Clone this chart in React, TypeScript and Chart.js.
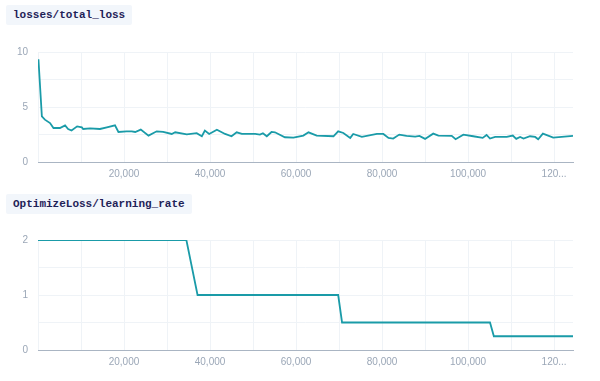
import React, { useEffect, useRef } from "react";
import { Chart, registerables } from "chart.js";

Chart.register(...registerables);

// losses/total_loss
const lossSteps = [
  100, 900, 1600, 2800, 3600, 5100, 6300, 7000, 7800, 9100, 10200, 10500, 12100, 14400, 16000,
  17900, 18700, 20600, 21800, 22600, 23900, 25700, 27600, 29100, 31100, 31900, 34600, 36900,
  38100, 38800, 39800, 41600, 43500, 45000, 46200, 47400, 50500, 51600, 52300, 53200, 54300,
  55100, 57400, 59400, 61700, 62900, 64800, 68700, 69800, 71000, 72600, 73300, 75300, 78800,
  80300, 81500, 82600, 84000, 85700, 87700, 88700, 90000, 91900, 93100, 96200, 97100, 98900,
  101200, 103400, 104300, 105100, 106300, 109000, 110400, 111200, 112100, 112900, 114400,
  115600, 116300, 117400, 119800, 124400,
];
const lossValues = [
  9.34, 4.14, 3.85, 3.54, 3.09, 3.09, 3.33, 3.0, 2.86, 3.24, 3.15, 3.0, 3.06, 3.0, 3.15,
  3.33, 2.73, 2.79, 2.79, 2.73, 2.95, 2.4, 2.79, 2.73, 2.55, 2.7, 2.52, 2.62,
  2.34, 2.86, 2.55, 2.94, 2.55, 2.34, 2.7, 2.55, 2.55, 2.49, 2.61, 2.34, 2.73,
  2.7, 2.25, 2.22, 2.4, 2.7, 2.4, 2.34, 2.79, 2.64, 2.19, 2.55, 2.28, 2.55,
  2.55, 2.19, 2.13, 2.49, 2.37, 2.31, 2.37, 2.1, 2.58, 2.4, 2.37, 2.07, 2.49,
  2.34, 2.19, 2.46, 2.13, 2.28, 2.28, 2.4, 2.1, 2.28, 2.13, 2.34,
  2.28, 2.07, 2.58, 2.22, 2.37,
];

// OptimizeLoss/learning_rate
const lrSteps = [0, 34500, 37100, 69800, 70700, 105100, 106000, 124400];
const lrValues = [2, 2, 1, 1, 0.5, 0.5, 0.25, 0.25];

const X_MAX = 124400;
const xTickValues = [0, 10000, 20000, 30000, 40000, 50000, 60000, 70000, 80000, 90000, 100000, 110000, 120000];
const xTickText = ["", "", "20,000", "", "40,000", "", "60,000", "", "80,000", "", "100,000", "", "120..."];

const LINE = "#1a9ba8";
const GRID = "#eff3f7";
const AXIS = "#aab5c3";
const TICK = "#9ba7b7";
const tickFont = { family: "'Liberation Sans', Arial, sans-serif", size: 10 };

function makeConfig(steps: number[], values: number[], yMax: number, yStep: number, labelEvery: number): any {
  return {
    type: "line",
    data: {
      datasets: [
        {
          data: steps.map((s, i) => ({ x: s, y: values[i] })),
          borderColor: LINE,
          borderWidth: 1.8,
          pointRadius: 0,
          tension: 0,
          fill: false,
        },
      ],
    },
    options: {
      animation: false,
      responsive: false,
      maintainAspectRatio: false,
      layout: { padding: { top: 14, right: 27, left: 0, bottom: 0 } },
      plugins: { legend: { display: false }, tooltip: { enabled: false } },
      scales: {
        x: {
          type: "linear",
          min: 0,
          max: X_MAX,
          afterBuildTicks: (s: any) => {
            s.ticks = xTickValues.map((v) => ({ value: v }));
          },
          grid: { color: GRID, drawTicks: false },
          border: { display: true, color: AXIS, width: 1 },
          ticks: {
            autoSkip: false,
            maxRotation: 0,
            minRotation: 0,
            padding: 6,
            color: TICK,
            font: tickFont,
            callback: (_v: any, i: number) => xTickText[i] ?? "",
          },
        },
        y: {
          type: "linear",
          min: 0,
          max: yMax,
          afterFit: (s: any) => {
            s.width = 38;
          },
          grid: { color: GRID, drawTicks: false },
          border: { display: false },
          ticks: {
            stepSize: yStep,
            autoSkip: false,
            padding: 10,
            color: TICK,
            font: tickFont,
            callback: (v: number) => (Math.abs(v / labelEvery - Math.round(v / labelEvery)) < 1e-9 ? String(v) : ""),
          },
        },
      },
    },
  };
}

function ChartCanvas({ top, config }: { top: number; config: any }) {
  const ref = useRef<HTMLCanvasElement | null>(null);
  useEffect(() => {
    if (!ref.current) return;
    const chart = new Chart(ref.current, config);
    return () => chart.destroy();
  }, []);
  return (
    <canvas
      ref={ref}
      width={600}
      height={150}
      style={{ position: "absolute", left: 0, top, width: 600, height: 150 }}
    />
  );
}

const titleStyle: React.CSSProperties = {
  position: "absolute",
  left: 6,
  height: 20,
  lineHeight: "20px",
  padding: "0 7px",
  background: "#f2f6fb",
  color: "#1f2257",
  fontFamily: "'Liberation Mono', 'DejaVu Sans Mono', monospace",
  fontWeight: "bold",
  fontSize: 11,
  whiteSpace: "nowrap",
  borderRadius: 2,
};

export default function App() {
  return (
    <div style={{ position: "absolute", left: 0, top: 0, width: 600, height: 381, background: "#fff", overflow: "hidden" }}>
      <div style={{ ...titleStyle, top: 5 }}>losses/total_loss</div>
      <ChartCanvas top={36} config={makeConfig(lossSteps, lossValues, 10, 2.5, 5)} />
      <div style={{ ...titleStyle, top: 194 }}>OptimizeLoss/learning_rate</div>
      <ChartCanvas top={224} config={makeConfig(lrSteps, lrValues, 2, 0.5, 1)} />
    </div>
  );
}
